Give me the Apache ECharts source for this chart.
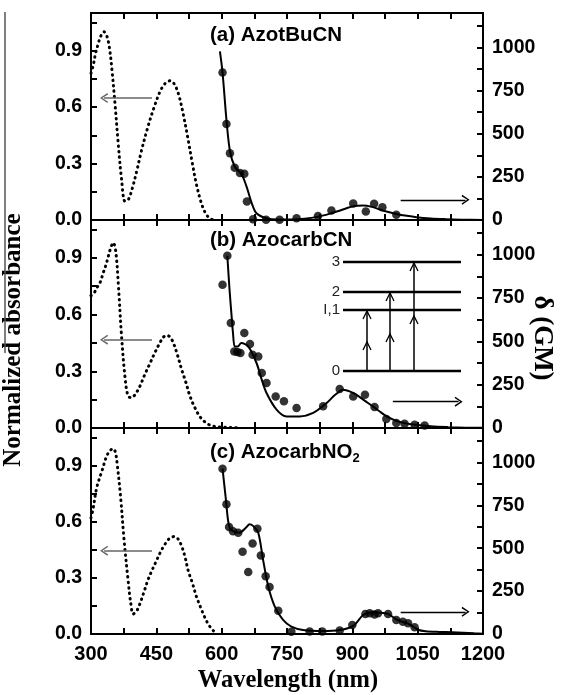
<!DOCTYPE html>
<html><head><meta charset="utf-8">
<script src="https://cdn.jsdelivr.net/npm/echarts@6/dist/echarts.min.js"></script>
<style>html,body{margin:0;padding:0;background:#fff}#c{width:565px;height:695px}</style>
</head><body><div id="c"></div>
<script>
// ---- tick labels ----
const xTickLabels = [300, 450, 600, 750, 900, 1050, 1200];
const leftTickLabels = [0.0, 0.3, 0.6, 0.9];
const rightTickLabels = [0, 250, 500, 750, 1000];
const panelNames = ['(a) AzotBuCN', '(b) AzocarbCN', '(c) AzocarbNO{s|2}'];

// ---- panel (a) AzotBuCN ----
const absWlA = [300,305,310,317,323,330,336,342,348,355,362,370,378,386,395,405,415,430,445,460,472,482,492,502,512,522,532,542,552,562,572,582];
const absA   = [0.78,0.82,0.88,0.94,0.98,1.0,0.98,0.92,0.80,0.62,0.42,0.22,0.10,0.11,0.17,0.26,0.36,0.49,0.60,0.69,0.73,0.74,0.72,0.66,0.56,0.44,0.31,0.19,0.10,0.04,0.01,0.0];
const fitWlA = [596,602,611,619,630,646,657,669,680,703,730,760,790,820,850,875,902,925,945,963,985,1001,1025,1047,1080,1114,1150,1200];
const fitA   = [977,855,580,400,310,264,195,98,39,10,3,3,7,18,38,58,80,84,76,61,45,35,24,16,9,5,2,0];
const ptWlA  = [602,611,619,630,642,652,658,672,702,733,772,821,852,902,931,950,969,1001];
const ptA    = [855,557,387,303,273,268,107,5,2,2,10,23,55,96,49,94,74,30];

// ---- panel (b) AzocarbCN ----
const absWlB = [300,306,313,321,328,334,340,345,351,357,363,370,378,385,393,402,412,423,435,447,458,466,474,482,489,498,508,518,527,538,550,560,569,580,600,620,640];
const absB   = [0.70,0.71,0.74,0.77,0.82,0.86,0.91,0.95,0.98,0.93,0.75,0.49,0.27,0.17,0.16,0.18,0.22,0.28,0.34,0.40,0.45,0.48,0.49,0.48,0.45,0.39,0.31,0.24,0.17,0.11,0.06,0.035,0.02,0.01,0.005,0.003,0.0];
const fitWlB = [613,618,623,626,630,637,645,661,680,692,703,726,749,779,810,841,860,879,895,909,930,947,963,980,1000,1020,1040,1080,1120,1160,1200];
const fitB   = [994,800,640,548,471,470,490,471,375,279,202,106,67,67,87,144,190,221,210,192,155,125,95,65,42,28,20,10,5,2,1];
const ptWlB  = [602,613,621,629,636,643,652,665,671,684,692,703,724,743,772,833,871,902,929,951,978,1001,1020,1043,1066];
const ptB    = [827,994,606,442,438,433,548,485,423,413,317,260,182,154,115,125,225,182,192,121,52,29,25,19,15];

// ---- panel (c) AzocarbNO2 ----
const absWlC = [300,305,313,325,336,344,351,356,360,368,376,385,391,397,404,412,421,431,440,450,460,470,480,490,499,508,516,523,533,542,552,561,570,580,590];
const absC   = [0.62,0.67,0.78,0.87,0.95,0.98,0.99,0.97,0.91,0.73,0.50,0.29,0.17,0.107,0.12,0.16,0.22,0.29,0.34,0.39,0.44,0.48,0.51,0.52,0.51,0.47,0.41,0.34,0.27,0.20,0.14,0.09,0.05,0.02,0.0];
const fitWlC = [602,609,615,620,626,641,656,664,672,684,695,707,722,741,760,787,831,871,902,925,947,960,982,1001,1016,1028,1051,1068,1100,1129,1180,1200];
const fitC   = [963,800,656,610,599,590,620,640,630,590,433,277,160,82,43,23,17,23,47,111,127,125,117,85,70,60,25,16,12,10,4,2];
const ptWlC  = [602,611,617,626,638,648,661,671,682,690,701,710,730,760,802,831,871,900,930,940,951,959,982,1001,1016,1028,1043];
const ptC    = [963,756,623,599,590,479,361,527,613,457,336,274,135,13,15,15,20,53,117,121,113,121,117,82,72,63,40];

// ---- arrow annotations (data units) ----
const leftArrowY  = [0.648, 0.467, 0.445];
const rightArrowY = [117, 152, 129];

function zip(a, b) { return a.map((v, i) => [v, b[i]]); }

const absData = [zip(absWlA, absA), zip(absWlB, absB), zip(absWlC, absC)];
const fitData = [zip(fitWlA, fitA), zip(fitWlB, fitB), zip(fitWlC, fitC)];
const ptData  = [zip(ptWlA, ptA), zip(ptWlB, ptB), zip(ptWlC, ptC)];

const fontSans = 'Arial, "Liberation Sans", Helvetica, sans-serif';
const fontSerif = '"Times New Roman", "Liberation Serif", "DejaVu Serif", serif';
const chevron = 'path://M0,10 L5,0 L10,10 L8.6,11 L5,3.2 L1.4,11 Z';

const gridDefs = [{top: 13, height: 207}, {top: 220, height: 208}, {top: 428, height: 206}];
const grid = gridDefs.map(g => ({left: 91, width: 392, top: g.top, height: g.height}));

const axisLine = {show: true, onZero: false, lineStyle: {color: '#000', width: 2}};
const axisTick = {show: true, inside: true, length: 6, lineStyle: {color: '#000', width: 2}};
const xAxis = [], yAxis = [], series = [];

for (let p = 0; p < 3; p++) {
  xAxis.push({
    type: 'value', gridIndex: p, position: 'bottom', min: 300, max: 1200, interval: 75,
    axisLine, axisTick, splitLine: {show: false},
    axisLabel: {
      show: p === 2, margin: 10, color: '#000', fontSize: 20, fontWeight: 'bold', fontFamily: fontSans,
      formatter: v => xTickLabels.includes(v) ? String(v) : ''
    }
  });
  xAxis.push({
    type: 'value', gridIndex: p, position: 'top', min: 300, max: 1200, interval: 75,
    axisLine, axisTick, splitLine: {show: false}, axisLabel: {show: false}
  });
  yAxis.push({
    type: 'value', gridIndex: p, position: 'left', min: 0, max: 1.1, interval: 0.15,
    axisLine, axisTick, splitLine: {show: false},
    axisLabel: {
      margin: 9, color: '#000', fontSize: 19.5, fontWeight: 'bold', fontFamily: fontSans, showMaxLabel: false,
      formatter: v => leftTickLabels.some(t => Math.abs(t - v) < 1e-6) ? v.toFixed(1) : ''
    }
  });
  yAxis.push({
    type: 'value', gridIndex: p, position: 'right', min: 0, max: 1200, interval: 125,
    axisLine, axisTick, splitLine: {show: false},
    axisLabel: {
      margin: 9, color: '#000', fontSize: 19.5, fontWeight: 'bold', fontFamily: fontSans, showMaxLabel: false,
      formatter: v => rightTickLabels.includes(v) ? String(v) : ''
    }
  });

  series.push({
    type: 'line', xAxisIndex: 2 * p, yAxisIndex: 2 * p, data: absData[p],
    smooth: 0.35, symbol: 'none', silent: true,
    lineStyle: {color: '#000', width: 3, type: [0.5, 5], cap: 'round'},
    markLine: {
      silent: true, animation: false, symbol: ['none', chevron], symbolSize: [10, 8],
      lineStyle: {color: '#666', width: 1.5, type: 'solid'}, label: {show: false},
      data: [[{coord: [440, leftArrowY[p]]}, {coord: [330, leftArrowY[p]]}]]
    }
  });
  series.push({
    type: 'line', xAxisIndex: 2 * p, yAxisIndex: 2 * p + 1, data: fitData[p],
    smooth: 0.3, symbol: 'none', silent: true,
    lineStyle: {color: '#000', width: 2},
    markLine: {
      silent: true, animation: false, symbol: ['none', chevron], symbolSize: [10, 8],
      lineStyle: {color: '#000', width: 1.3, type: 'solid'}, label: {show: false},
      data: [[{coord: [p === 1 ? 993 : 1011, rightArrowY[p]]}, {coord: [p === 1 ? 1144 : 1160, rightArrowY[p]]}]]
    }
  });
  series.push({
    type: 'scatter', xAxisIndex: 2 * p, yAxisIndex: 2 * p + 1, data: ptData[p],
    symbolSize: 8.5, itemStyle: {color: '#000'}, silent: true
  });
}

// ---- texts & diagram ----
const graphic = [];
const labelY = [35, 240, 452];
for (let p = 0; p < 3; p++) {
  graphic.push({
    type: 'text', x: 210, y: labelY[p], silent: true,
    style: {
      text: panelNames[p], fill: '#000', font: 'bold 20.5px ' + fontSans, verticalAlign: 'middle', align: 'left',
      rich: {s: {fontSize: 13, fontWeight: 'bold', fontFamily: fontSans, verticalAlign: 'bottom', lineHeight: 25, fill: '#000'}}
    }
  });
}
graphic.push({type: 'text', x: 288, y: 681, silent: true,
  style: {text: 'Wavelength (nm)', font: 'bold 24.5px ' + fontSerif, fill: '#000', align: 'center', verticalAlign: 'middle'}});
graphic.push({type: 'text', x: 14, y: 340, rotation: Math.PI / 2, silent: true,
  style: {text: 'Normalized absorbance', font: 'bold 25px ' + fontSerif, fill: '#000', align: 'center', verticalAlign: 'middle'}});
graphic.push({type: 'text', x: 542, y: 338, rotation: -Math.PI / 2, silent: true,
  style: {text: 'δ (GM)', font: 'bold 27px ' + fontSerif, fill: '#000', align: 'center', verticalAlign: 'middle'}});
graphic.push({type: 'line', silent: true, shape: {x1: 5, y1: 12, x2: 5, y2: 353}, style: {stroke: '#555', lineWidth: 1.5}});

// energy level diagram (panel b)
const levels = [{y: 262, t: '3'}, {y: 292, t: '2'}, {y: 310, t: 'I,1'}, {y: 371, t: '0'}];
levels.forEach(l => {
  graphic.push({type: 'line', silent: true, shape: {x1: 343, y1: l.y, x2: 461, y2: l.y}, style: {stroke: '#000', lineWidth: 2.5}});
  graphic.push({type: 'text', x: 340, y: l.y, silent: true,
    style: {text: l.t, font: '15px ' + fontSans, fill: '#222', align: 'right', verticalAlign: 'middle'}});
});
const arrows = [{x: 367, top: 311, tips: [311, 342]}, {x: 390, top: 293, tips: [293, 334]}, {x: 414, top: 263, tips: [263, 316]}];
arrows.forEach(a => {
  graphic.push({type: 'line', silent: true, shape: {x1: a.x, y1: 371, x2: a.x, y2: a.top}, style: {stroke: '#000', lineWidth: 1.5}});
  a.tips.forEach(t => {
    graphic.push({type: 'polyline', silent: true, shape: {points: [[a.x - 4, t + 8], [a.x, t], [a.x + 4, t + 8]]},
      style: {stroke: '#000', lineWidth: 1.3, fill: null}});
  });
});

const chart = echarts.init(document.getElementById('c'), null, {renderer: 'canvas'});
chart.setOption({
  animation: false,
  backgroundColor: '#fff',
  grid, xAxis, yAxis, series, graphic
});
</script></body></html>
